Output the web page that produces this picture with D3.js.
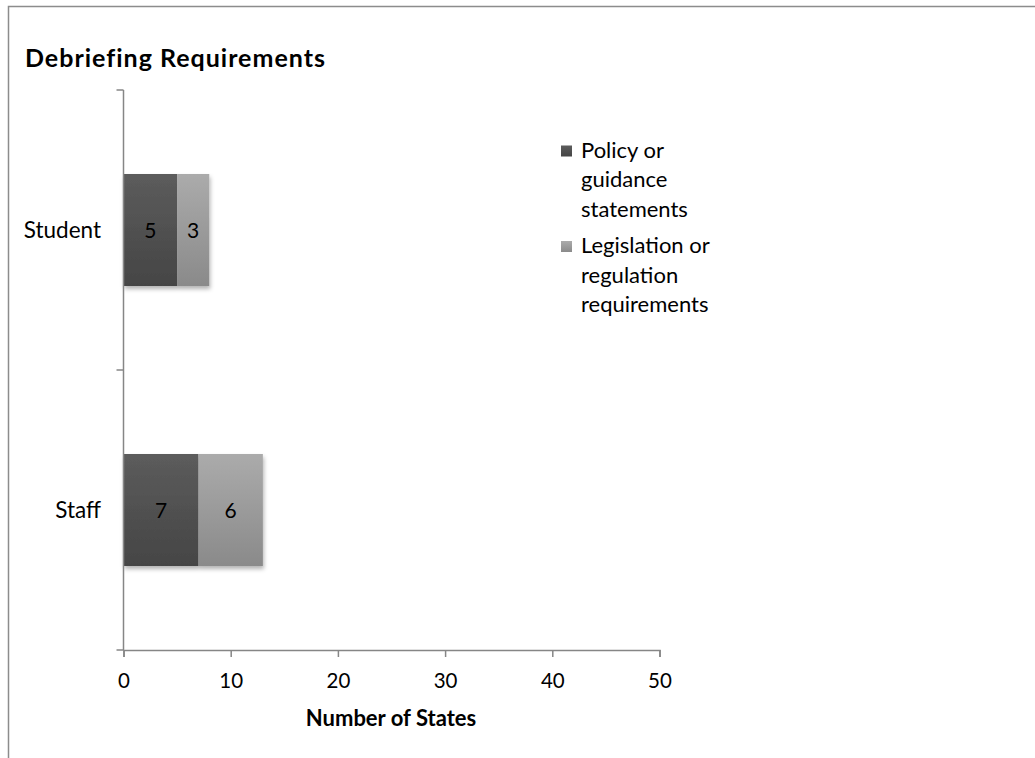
<!DOCTYPE html>
<html>
<head>
<meta charset="utf-8">
<script src="https://cdn.jsdelivr.net/npm/d3@7"></script>
<style>
  html, body { margin: 0; padding: 0; background: #fff; }
  svg { display: block; font-family: Lato, "Open Sans", sans-serif; }
</style>
</head>
<body>
<svg id="chart" width="1035" height="758"></svg>
<script>
// Debriefing requirements by audience, stacked by source of requirement
const categories = ["Student", "Staff"];
const seriesNames = ["Policy or guidance statements", "Legislation or regulation requirements"];
const policyValues = [5, 7];
const legislationValues = [3, 6];
const xTicks = [0, 10, 20, 30, 40, 50];
const legendLines = [["Policy or", "guidance", "statements"], ["Legislation or", "regulation", "requirements"]];

const svg = d3.select("#chart");
const axisColor = "#868686";

// outer chart frame
svg.append("rect")
  .attr("x", 8.5).attr("y", 6.5)
  .attr("width", 1040).attr("height", 800)
  .attr("fill", "none").attr("stroke", "#8c8c8c").attr("stroke-width", 1.5);

// gradients for bar fills
const defs = svg.append("defs");
const grads = [["gDark", "#5c5c5c", "#454545"], ["gLight", "#ababab", "#8a8a8a"]];
grads.forEach(([id, c0, c1]) => {
  const g = defs.append("linearGradient").attr("id", id)
    .attr("x1", 0).attr("y1", 0).attr("x2", 0).attr("y2", 1);
  g.append("stop").attr("offset", "0%").attr("stop-color", c0);
  g.append("stop").attr("offset", "100%").attr("stop-color", c1);
});
const shadow = defs.append("filter").attr("id", "shadow")
  .attr("x", "-10%").attr("y", "-10%").attr("width", "130%").attr("height", "140%");
shadow.append("feDropShadow").attr("dx", 1).attr("dy", 3).attr("stdDeviation", 2)
  .attr("flood-color", "#000").attr("flood-opacity", 0.3);

const plotLeft = 123.5, plotRight = 659.5, plotTop = 90, plotBottom = 650;

const x = d3.scaleLinear().domain([0, 50]).range([plotLeft, plotRight]);
const y = d3.scaleBand().domain(categories).range([plotTop, plotBottom]).paddingInner(0.6).paddingOuter(0.3);

// title
svg.append("text")
  .attr("x", 25).attr("y", 67)
  .attr("font-size", 25).attr("font-weight", "bold").attr("letter-spacing", 1)
  .attr("fill", "#000")
  .text("Debriefing Requirements");

// stacked data
const rows = categories.map((c, i) => ({ cat: c, policy: policyValues[i], legislation: legislationValues[i] }));
const stack = d3.stack().keys(["policy", "legislation"])(rows);
const fills = ["url(#gDark)", "url(#gLight)"];

const barGroup = svg.append("g").attr("filter", "url(#shadow)");
stack.forEach((layer, li) => {
  barGroup.selectAll(null).data(layer).enter().append("rect")
    .attr("x", d => x(d[0]))
    .attr("y", d => y(d.data.cat))
    .attr("width", d => x(d[1]) - x(d[0]))
    .attr("height", y.bandwidth())
    .attr("fill", fills[li]);
});

// value labels
stack.forEach(layer => {
  svg.selectAll(null).data(layer).enter().append("text")
    .attr("x", d => (x(d[0]) + x(d[1])) / 2)
    .attr("y", d => y(d.data.cat) + y.bandwidth() / 2)
    .attr("dy", "0.36em")
    .attr("text-anchor", "middle")
    .attr("font-size", 21).attr("fill", "#000")
    .text(d => d[1] - d[0]);
});

// x axis
const xAxis = svg.append("g").attr("transform", `translate(0,${plotBottom})`)
  .call(d3.axisBottom(x).tickValues(xTicks).tickSize(7).tickPadding(16));
xAxis.select(".domain").attr("stroke", axisColor).attr("stroke-width", 1.5);
xAxis.selectAll(".tick line").attr("stroke", axisColor).attr("stroke-width", 1.5);
xAxis.selectAll(".tick text").attr("font-size", 20.5).attr("font-family", "Lato, sans-serif").attr("fill", "#000");

// y axis: line with tick marks at band boundaries
const yLine = svg.append("g");
yLine.append("line").attr("x1", plotLeft).attr("x2", plotLeft).attr("y1", plotTop).attr("y2", plotBottom)
  .attr("stroke", axisColor).attr("stroke-width", 1.5);
const step = (plotBottom - plotTop) / categories.length;
d3.range(categories.length + 1).forEach(i => {
  yLine.append("line").attr("x1", plotLeft - 7).attr("x2", plotLeft)
    .attr("y1", plotTop + i * step).attr("y2", plotTop + i * step)
    .attr("stroke", axisColor).attr("stroke-width", 1.5);
});
svg.selectAll(null).data(categories).enter().append("text")
  .attr("x", 101)
  .attr("y", d => y(d) + y.bandwidth() / 2)
  .attr("dy", "0.36em")
  .attr("text-anchor", "end")
  .attr("font-size", 22.5).attr("fill", "#000")
  .text(d => d);

// axis title
svg.append("text")
  .attr("x", 391).attr("y", 726)
  .attr("text-anchor", "middle")
  .attr("font-size", 22).attr("font-weight", "bold").attr("fill", "#000")
  .text("Number of States");

// legend
const legend = svg.append("g");
const legendTops = [150, 245.5];
seriesNames.forEach((name, i) => {
  legend.append("rect")
    .attr("x", 561).attr("y", legendTops[i] - 4.5).attr("width", 11).attr("height", 11)
    .attr("fill", fills[i]);
  legend.append("text")
    .attr("x", 581).attr("font-size", 22).attr("fill", "#000")
    .selectAll("tspan").data(legendLines[i]).enter().append("tspan")
    .attr("x", 581)
    .attr("y", (d, j) => legendTops[i] + j * 29.5)
    .attr("dy", "0.36em")
    .text(d => d);
});
</script>
</body>
</html>
